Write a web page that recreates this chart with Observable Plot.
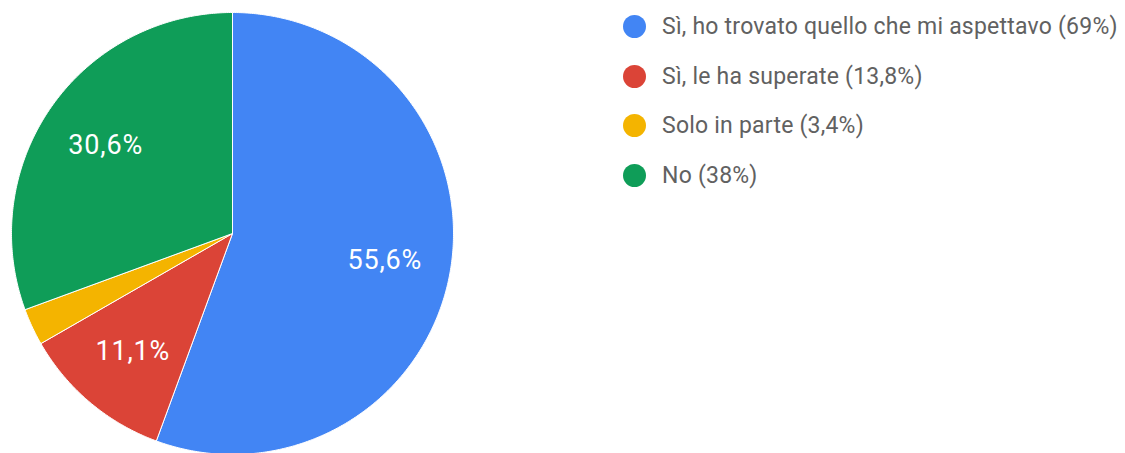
<!DOCTYPE html>
<html>
<head>
<meta charset="utf-8">
<script src="https://cdn.jsdelivr.net/npm/d3@7"></script>
<script src="https://cdn.jsdelivr.net/npm/@observablehq/plot@0.6"></script>
<style>
  html, body { margin: 0; padding: 0; background: #fff; }
  #wrap { position: relative; width: 1125px; height: 453px; overflow: hidden; font-family: Roboto, "Noto Sans", sans-serif; }
  #legend { position: absolute; left: 623px; top: 15px; }
  .row { display: flex; align-items: center; height: 23px; margin-bottom: 26.5px; }
  .sw { width: 23px; height: 23px; border-radius: 50%; margin-right: 16px; flex: none; }
  .lab { font-size: 23px; color: #616161; white-space: nowrap; letter-spacing: 0.22px; }
  svg text { letter-spacing: 0.8px; }
</style>
</head>
<body>
<div id="wrap"></div>
<script>
// Data
const categories = ["Sì, ho trovato quello che mi aspettavo", "Sì, le ha superate", "Solo in parte", "No"];
const legendPct = ["69%", "13,8%", "3,4%", "38%"];
const values = [55.6, 11.1, 2.7, 30.6];
const colors = ["#4285F4", "#DB4437", "#F4B400", "#0F9D58"];
const showLabel = [true, true, false, true];

// Geometry of slices (unit circle, clockwise from top)
const total = d3.sum(values);
const pts = [];
const labels = [];
let acc = 0;
values.forEach((v, i) => {
  const a0 = acc / total * 2 * Math.PI;
  const a1 = (acc + v) / total * 2 * Math.PI;
  acc += v;
  pts.push({cat: categories[i], x: 0, y: 0});
  const n = Math.max(2, Math.ceil((a1 - a0) / (Math.PI / 360)));
  for (let k = 0; k <= n; k++) {
    const a = a0 + (a1 - a0) * k / n;
    pts.push({cat: categories[i], x: Math.sin(a), y: Math.cos(a)});
  }
  pts.push({cat: categories[i], x: 0, y: 0});
  if (showLabel[i]) {
    const am = (a0 + a1) / 2;
    labels.push({x: 0.7 * Math.sin(am), y: 0.7 * Math.cos(am), text: v.toFixed(1).replace(".", ",") + "%"});
  }
});

const chart = Plot.plot({
  width: 1125,
  height: 453,
  margin: 0,
  x: {domain: [-1, 1], range: [11, 453], axis: null},
  y: {domain: [-1, 1], range: [454, 12], axis: null},
  color: {domain: categories, range: colors},
  style: {background: "transparent", fontFamily: "Roboto, sans-serif"},
  marks: [
    Plot.line(pts, {x: "x", y: "y", z: "cat", fill: "cat", stroke: "white", strokeWidth: 1, strokeLinejoin: "round"}),
    Plot.text(labels, {x: "x", y: "y", text: "text", fill: "white", fontSize: 27})
  ]
});
const wrap = document.getElementById("wrap");
wrap.appendChild(chart);

const legend = document.createElement("div");
legend.id = "legend";
categories.forEach((c, i) => {
  const row = document.createElement("div");
  row.className = "row";
  const sw = document.createElement("div");
  sw.className = "sw";
  sw.style.background = colors[i];
  const lab = document.createElement("div");
  lab.className = "lab";
  lab.textContent = `${c} (${legendPct[i]})`;
  row.appendChild(sw);
  row.appendChild(lab);
  legend.appendChild(row);
});
wrap.appendChild(legend);
</script>
</body>
</html>
